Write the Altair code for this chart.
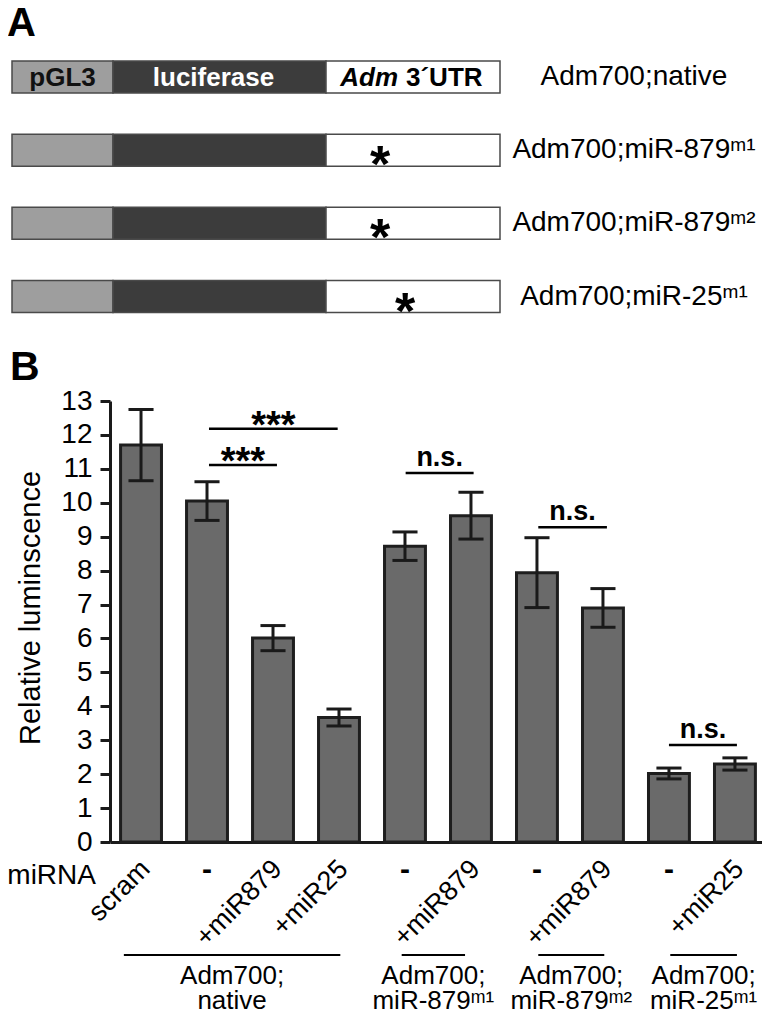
import altair as alt
import pandas as pd

FONT = "Liberation Sans"
INK = "#1a1a1a"

# ---------------- Panel A data (schematic constructs) ----------------
construct_labels = ["Adm700;native", "Adm700;miR-879ᵐ¹", "Adm700;miR-879ᵐ²", "Adm700;miR-25ᵐ¹"]
segment_names = ["pGL3", "luciferase", "UTR"]
segment_start = [0, 101, 314]
segment_end = [101, 314, 488]
segment_colors = ["#9e9e9e", "#3c3c3c", "#ffffff"]
mutant_rows = [1, 2, 3]
mutant_site = [368, 368, 393]

# ---------------- Panel B data (bar chart) ----------------
mirna_labels = ["scram", "-", "+miR879", "+miR25", "-", "+miR879", "-", "+miR879", "-", "+miR25"]
luminescence = [11.70, 10.05, 6.01, 3.67, 8.72, 9.62, 7.94, 6.90, 2.02, 2.30]
sem = [1.05, 0.57, 0.37, 0.25, 0.42, 0.69, 1.03, 0.57, 0.16, 0.18]

group_line1 = ["Adm700;", "Adm700;", "Adm700;", "Adm700;"]
group_line2 = ["native", "miR-879ᵐ¹", "miR-879ᵐ²", "miR-25ᵐ¹"]
group_from = [0.74, 4.95, 7.02, 9.02]
group_to = [4.02, 5.91, 8.02, 10.03]

sig_text = ["***", "***", "n.s.", "n.s.", "n.s."]
sig_from = [2.03, 2.03, 5.01, 7.02, 9.00]
sig_to = [3.06, 3.98, 6.04, 8.06, 10.03]
sig_y = [11.11, 12.18, 10.88, 9.28, 2.86]

y_ticks = list(range(14))

# ---------------- layout ----------------
W, H = 652, 834

# ---------------- Panel A ----------------
xa = alt.Scale(domain=[0, 488], range=[-98, 390], nice=False, zero=False)
ya = alt.Scale(domain=[0, 3], range=[69, 288.5], nice=False, zero=False)


def XA(f):
    return alt.X(f, type="quantitative", scale=xa, axis=None)


def YA(f):
    return alt.Y(f, type="quantitative", scale=ya, axis=None)


seg_df = pd.DataFrame(
    [
        {"row": r, "seg": n, "x0": a, "x1": b, "fill": c}
        for r in range(len(construct_labels))
        for n, a, b, c in zip(segment_names, segment_start, segment_end, segment_colors)
    ]
)

rects_a = (
    alt.Chart(seg_df)
    .transform_calculate(ytop="datum.row - 0.219", ybot="datum.row + 0.219")
    .mark_rect(stroke="#4a4a4a", strokeWidth=1.5)
    .encode(x=XA("x0"), x2="x1", y=YA("ytop"), y2="ybot", color=alt.Color("fill:N", scale=None))
)

head_df = pd.DataFrame(
    {"seg": segment_names, "x0": segment_start, "x1": segment_end, "row": [0, 0, 0]}
).assign(mid=lambda d: (d.x0 + d.x1) / 2)

seg_text_dark = (
    alt.Chart(head_df[head_df.seg == "pGL3"])
    .mark_text(font=FONT, fontSize=26, fontWeight="bold", color="#111", baseline="middle", dy=1)
    .encode(x=XA("mid"), y=YA("row"), text="seg:N")
)
seg_text_light = (
    alt.Chart(head_df[head_df.seg == "luciferase"])
    .transform_calculate(px="datum.mid - 6")
    .mark_text(font=FONT, fontSize=26, fontWeight="bold", color="#ffffff", baseline="middle", dy=1)
    .encode(x=XA("px"), y=YA("row"), text="seg:N")
)
utr_df = head_df[head_df.seg == "UTR"].assign(t1="Adm", t2="3´UTR")
utr_text1 = (
    alt.Chart(utr_df)
    .transform_calculate(px="datum.mid - 15")
    .mark_text(font=FONT, fontSize=26, fontWeight="bold", fontStyle="italic", color="#000", align="right", baseline="middle", dy=1)
    .encode(x=XA("px"), y=YA("row"), text="t1:N")
)
utr_text2 = (
    alt.Chart(utr_df)
    .transform_calculate(px="datum.mid - 7")
    .mark_text(font=FONT, fontSize=26, fontWeight="bold", color="#000", align="left", baseline="middle", dy=1)
    .encode(x=XA("px"), y=YA("row"), text="t2:N")
)

lab_df = pd.DataFrame({"row": list(range(len(construct_labels))), "label": construct_labels})
row_labels = (
    alt.Chart(lab_df)
    .mark_text(font=FONT, fontSize=28, color="#000", align="center", baseline="middle")
    .encode(x=alt.value(524), y=YA("row"), text="label:N")
)

mut_df = pd.DataFrame({"row": mutant_rows, "site": mutant_site, "star": ["*"] * len(mutant_rows)})
mut_stars = (
    alt.Chart(mut_df)
    .mark_text(font=FONT, fontSize=52, fontWeight="bold", color="#000", baseline="alphabetic", dy=32)
    .encode(x=XA("site"), y=YA("row"), text="star:N")
)

panel_a = alt.layer(rects_a, seg_text_dark, seg_text_light, utr_text1, utr_text2, row_labels, mut_stars)

# ---------------- Panel B ----------------
xb = alt.Scale(domain=[0.53, 10.41], nice=False, zero=False)
yb = alt.Scale(domain=[0, 13], range=[834, 393], nice=False, zero=False)

x_axis = alt.Axis(orient="bottom", ticks=False, labels=False, domain=True, domainWidth=3,
                  domainColor=INK, grid=False, title=None)
y_axis = alt.Axis(orient="left", values=y_ticks, tickSize=10, tickWidth=3, tickColor=INK,
                  domainWidth=3, domainColor=INK, labelFontSize=28, labelFont=FONT,
                  labelColor="#000", labelPadding=8, grid=False, title=None, labelOverlap=False)


def XB(f):
    return alt.X(f, type="quantitative", scale=xb, axis=x_axis)


def YB(f):
    return alt.Y(f, type="quantitative", scale=yb, axis=y_axis)


bar_df = pd.DataFrame(
    {"pos": list(range(1, len(mirna_labels) + 1)), "label": mirna_labels, "mean": luminescence, "err": sem}
)
base_b = alt.Chart(bar_df).transform_calculate(
    x0="datum.pos - 0.31",
    x1="datum.pos + 0.31",
    lo="datum.mean - datum.err",
    hi="datum.mean + datum.err",
    cl="datum.pos - 0.19",
    cr="datum.pos + 0.19",
    lx="datum.pos + 0.07",
    zero="0",
)

bars = base_b.mark_rect(fill="#6a6a6a", stroke="#1e1e1e", strokeWidth=3).encode(
    x=XB("x0"), x2="x1", y=YB("mean"), y2="zero:Q"
)
err_v = base_b.mark_rule(color=INK, strokeWidth=3).encode(x=XB("pos"), y=YB("lo"), y2="hi:Q")
cap_hi = base_b.mark_rule(color=INK, strokeWidth=3).encode(x=XB("cl"), x2="cr:Q", y=YB("hi"))
cap_lo = base_b.mark_rule(color=INK, strokeWidth=3).encode(x=XB("cl"), x2="cr:Q", y=YB("lo"))

rot_labels = (
    base_b.transform_filter("datum.label != '-'")
    .mark_text(font=FONT, fontSize=27, color="#000", angle=315, align="right", baseline="middle")
    .encode(x=XB("lx"), y=alt.value(857), text="label:N")
)
dash_labels = (
    base_b.transform_filter("datum.label == '-'")
    .mark_text(font=FONT, fontSize=30, fontWeight="bold", color="#000", align="center", baseline="middle")
    .encode(x=XB("pos"), y=alt.value(862), text="label:N")
)

sig_df = pd.DataFrame({"txt": sig_text, "x0": sig_from, "x1": sig_to, "yv": sig_y}).assign(
    mid=lambda d: (d.x0 + d.x1) / 2
)
sig_rules = alt.Chart(sig_df).mark_rule(color="#000", strokeWidth=2.5).encode(
    x=XB("x0"), x2="x1:Q", y=YB("yv")
)
sig_stars = (
    alt.Chart(sig_df[sig_df.txt == "***"])
    .mark_text(font=FONT, fontSize=38, fontWeight="bold", color="#000", baseline="alphabetic", dy=9)
    .encode(x=XB("mid"), y=YB("yv"), text="txt:N")
)
sig_ns = (
    alt.Chart(sig_df[sig_df.txt == "n.s."])
    .mark_text(font=FONT, fontSize=27, fontWeight="bold", color="#000", baseline="alphabetic", dy=-7)
    .encode(x=XB("mid"), y=YB("yv"), text="txt:N")
)

grp_df = pd.DataFrame({"g1": group_line1, "g2": group_line2, "x0": group_from, "x1": group_to}).assign(
    mid=lambda d: (d.x0 + d.x1) / 2
)
grp_rules = alt.Chart(grp_df).mark_rule(color="#000", strokeWidth=2).encode(
    x=XB("x0"), x2="x1:Q", y=alt.value(947)
)
grp_t1 = alt.Chart(grp_df).mark_text(font=FONT, fontSize=26, color="#000", baseline="middle").encode(
    x=XB("mid"), y=alt.value(968), text="g1:N"
)
grp_t2 = alt.Chart(grp_df).mark_text(font=FONT, fontSize=26, color="#000", baseline="middle").encode(
    x=XB("mid"), y=alt.value(993), text="g2:N"
)

mirna_title = alt.Chart(pd.DataFrame({"t": ["miRNA"]})).mark_text(
    font=FONT, fontSize=28, color="#000", align="right", baseline="middle"
).encode(x=alt.value(-14), y=alt.value(868), text="t:N")
y_title = alt.Chart(pd.DataFrame({"t": ["Relative luminscence"]})).mark_text(
    font=FONT, fontSize=29, color="#000", align="center", baseline="middle", angle=270
).encode(x=alt.value(-79), y=alt.value(600), text="t:N")
label_a = alt.Chart(pd.DataFrame({"t": ["A"]})).mark_text(
    font=FONT, fontSize=40, fontWeight="bold", color="#000", align="left", baseline="alphabetic"
).encode(x=alt.value(-103), y=alt.value(28), text="t:N")
label_b = alt.Chart(pd.DataFrame({"t": ["B"]})).mark_text(
    font=FONT, fontSize=41, fontWeight="bold", color="#000", align="left", baseline="alphabetic"
).encode(x=alt.value(-100), y=alt.value(372), text="t:N")

panel_b = alt.layer(
    bars, err_v, cap_hi, cap_lo, sig_rules, sig_stars, sig_ns,
    rot_labels, dash_labels, grp_rules, grp_t1, grp_t2,
    mirna_title, y_title, label_a, label_b,
)

chart = (
    alt.layer(panel_b, panel_a)
    .resolve_scale(x="independent", y="independent")
    .properties(
        width=W,
        height=H,
        autosize=alt.AutoSizeParams(type="none"),
        padding={"left": 102, "top": 0, "right": 0, "bottom": 171},
        background="white",
    )
    .configure_view(stroke=None)
)

chart.save("out.html", embed_options={"renderer": "svg", "actions": False})
